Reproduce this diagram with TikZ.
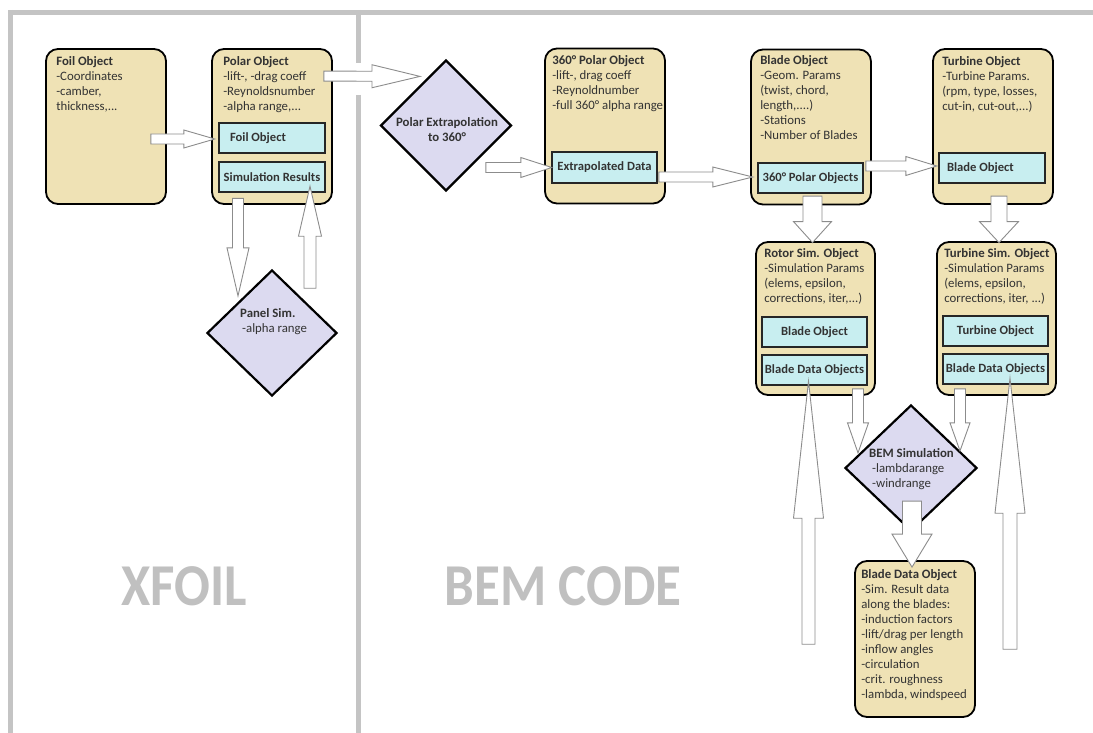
\documentclass[tikz,border=0pt]{standalone}
\usepackage{fontspec}
\setmainfont{Carlito}
\usetikzlibrary{shapes.geometric,calc}
\definecolor{boxtan}{HTML}{EFE2B5}
\definecolor{boxcyan}{HTML}{C8EEF0}
\definecolor{dialav}{HTML}{DCDAF0}
\definecolor{framegray}{HTML}{C4C4C4}
\definecolor{arrgray}{HTML}{8C8C8C}
\definecolor{biggray}{HTML}{C0C0C0}
\definecolor{txtdark}{HTML}{333333}
\newcommand{\barrow}[5]{%
  \path #1 coordinate (bas) #2 coordinate (bae);
  \coordinate (bac) at ($(bae)!#5pt!(bas)$);
  \draw[blockarr] ($(bas)!#3pt!90:(bae)$) -- ($(bac)!#3pt!90:(bae)$) -- ($(bac)!#4pt!90:(bae)$) -- (bae)
    -- ($(bac)!#4pt!-90:(bae)$) -- ($(bac)!#3pt!-90:(bae)$) -- ($(bas)!#3pt!-90:(bae)$) -- cycle;
}
\begin{document}
\begin{tikzpicture}[x=1pt,y=-1pt,
  obox/.style={draw=black, line width=1.8pt, rounded corners=12pt, fill=boxtan, minimum width=120pt, minimum height=155pt, inner sep=0pt},
  ibox/.style={draw=black!85, line width=2.4pt, fill=boxcyan, minimum width=106pt, minimum height=30pt, inner sep=0pt, font=\bfseries\fontsize{12.6}{15}\selectfont, text=txtdark},
  dia/.style={diamond, draw=black, line width=2.2pt, fill=dialav, inner sep=0pt, minimum width=130pt, minimum height=126pt},
  btxt/.style={anchor=north west, align=left, inner sep=0pt, font=\fontsize{12.8}{15}\selectfont, text=txtdark},
  blockarr/.style={draw=arrgray, fill=white, line width=0.9pt, line join=miter},
  framel/.style={draw=framegray, line width=5pt},
  biglbl/.style={text=biggray, font=\bfseries\fontsize{53}{60}\selectfont, inner sep=0pt}
]
\useasboundingbox[fill=white] (0,0) rectangle (1093,733);
% frame
\draw[framel] (8,12.5) -- (1093,12.5);
\draw[framel] (10.5,10) -- (10.5,733);
\draw[framel] (358.5,10) -- (358.5,63);
\draw[framel] (358.5,95) -- (358.5,733);
% big labels
\node[biglbl] (xfoil) at (184,586) {\scalebox{1}[1.12]{XFOIL}};
\node[biglbl] (bemcode) at (563,586) {\scalebox{1}[1.12]{BEM CODE}};
% outer boxes
\node[obox] (foil) at (106,126.5) {};
\node[obox] (polar) at (272,126.5) {};
\node[obox] (p360) at (605,126) {};
\node[obox] (blade) at (811,127) {};
\node[obox] (turb) at (993,126.5) {};
\node[obox, minimum width=119pt, minimum height=153pt] (rsim) at (815.5,318.5) {};
\node[obox, minimum width=119pt, minimum height=153pt] (tsim) at (996.5,318.5) {};
\node[obox, minimum height=156pt] (bdo) at (915,639) {};
% inner boxes
\node[ibox] (foilobj) at (272,138) {\makebox[84pt][l]{Foil Object}};
\node[ibox] (simres) at (272,177) {Simulation Results};
\node[ibox, minimum width=105pt, minimum height=31pt] (extdata) at (604.5,167.5) {Extrapolated Data};
\node[ibox, minimum width=105pt] (polarobjs) at (810.5,178) {360° Polar Objects};
\node[ibox] (bladeobj) at (992,168) {\makebox[90pt][l]{Blade Object}};
\node[ibox, minimum width=105pt] (rbladeobj) at (814.5,332) {Blade Object};
\node[ibox, minimum width=105pt] (rbdo) at (814.5,370) {Blade Data Objects};
\node[ibox, minimum width=105pt] (tturbobj) at (995.5,331) {Turbine Object};
\node[ibox, minimum width=105pt] (tbdo) at (995.5,369) {Blade Data Objects};
% diamonds
\node[dia] (panel) at (272,333) {};
\node[dia, minimum width=131pt, minimum height=131pt] (extrap) at (446,125.5) {};
\node[dia, minimum width=132pt, minimum height=126pt] (bem) at (911,468) {};
% texts
\node[btxt] (foil-t) at ($(foil.north west)+(11,8)$) {\textbf{Foil Object}\\-Coordinates\\-camber,\\thickness,...};
\node[btxt] (polar-t) at ($(polar.north west)+(12,8)$) {\textbf{Polar Object}\\-lift-, -drag coeff\\-Reynoldsnumber\\-alpha range,...};
\node[btxt] (p360-t) at ($(p360.north west)+(8,8)$) {\textbf{360° Polar Object}\\-lift-, drag coeff\\-Reynoldnumber\\-full 360° alpha range};
\node[btxt] (blade-t) at ($(blade.north west)+(10,7)$) {\textbf{Blade Object}\\-Geom. Params\\(twist, chord,\\length,....)\\-Stations\\-Number of Blades};
\node[btxt] (turb-t) at ($(turb.north west)+(10,8)$) {\textbf{Turbine Object}\\-Turbine Params.\\(rpm, type, losses,\\cut-in, cut-out,...)};
\node[btxt] (rsim-t) at ($(rsim.north west)+(9,7)$) {\textbf{Rotor Sim. Object}\\-Simulation Params\\(elems, epsilon,\\corrections, iter,...)};
\node[btxt] (tsim-t) at ($(tsim.north west)+(8,7)$) {\textbf{Turbine Sim. Object}\\-Simulation Params\\(elems, epsilon,\\corrections, iter, ...)};
\node[btxt] (bdo-t) at ($(bdo.north west)+(7,9)$) {\textbf{Blade Data Object}\\-Sim. Result data\\along the blades:\\-induction factors\\-lift/drag per length\\-inflow angles\\-circulation\\-crit. roughness\\-lambda, windspeed};
\node[btxt] (panel-t) at (240,308) {\textbf{Panel Sim.}\\\hspace{2pt}-alpha range};
\node[btxt, anchor=center, align=center, font=\bfseries\fontsize{12.8}{15}\selectfont] (extrap-t) at (447,129.5) {Polar Extrapolation\\to 360°};
\node[btxt] (bem-t) at (869,448) {\textbf{BEM Simulation}\\\hspace{3pt}-lambdarange\\\hspace{3pt}-windrange};
% arrows
\barrow{($(foilobj.west)+(-67,1)$)}{($(foilobj.west)+(-3,1)$)}{5}{9}{31}
\barrow{($(polar.north east)+(-9,28)$)}{($(extrap.north)+(-26,17.5)$)}{5}{11.5}{48}
\barrow{($(extdata.west)+(-65,0)$)}{($(extdata.west)+(1,0)$)}{5}{10}{31}
\barrow{($(polarobjs.west)+(-98,-1)$)}{($(polarobjs.west)+(-4,-1)$)}{5}{10}{40}
\barrow{($(bladeobj.west)+(-72,-2)$)}{($(bladeobj.west)+(-1,-2)$)}{5}{9.5}{31}
\barrow{($(rsim.north)+(-3,-45)$)}{($(rsim.north)+(-3,1.5)$)}{9.5}{19}{21}
\barrow{($(tsim.north)+(2.5,-45)$)}{($(tsim.north)+(2.5,1.5)$)}{8}{19.5}{21}
\barrow{($(polar.south)+(-34,-6.5)$)}{($(polar.south)+(-34,91)$)}{5.5}{11}{48}
\barrow{($(simres.south)+(38,95)$)}{($(simres.south)+(38,-7)$)}{6}{11.5}{50}
\barrow{($(rsim.south)+(42.5,-7)$)}{($(rsim.south)+(42.5,57)$)}{5.5}{10.5}{30}
\barrow{($(tsim.south)+(-36.5,-7)$)}{($(tsim.south)+(-36.5,55)$)}{5.5}{10}{28}
\barrow{($(bdo.north)+(-3,-59)$)}{($(bdo.north)+(-3,7)$)}{9.5}{20}{33}
\barrow{($(rbdo.south)+(-6,258)$)}{($(rbdo.south)+(-6,-5)$)}{6.5}{15}{137}
\barrow{($(tbdo.south)+(14.5,264)$)}{($(tbdo.south)+(14.5,-7)$)}{7}{15}{135}
\end{tikzpicture}
\end{document}
